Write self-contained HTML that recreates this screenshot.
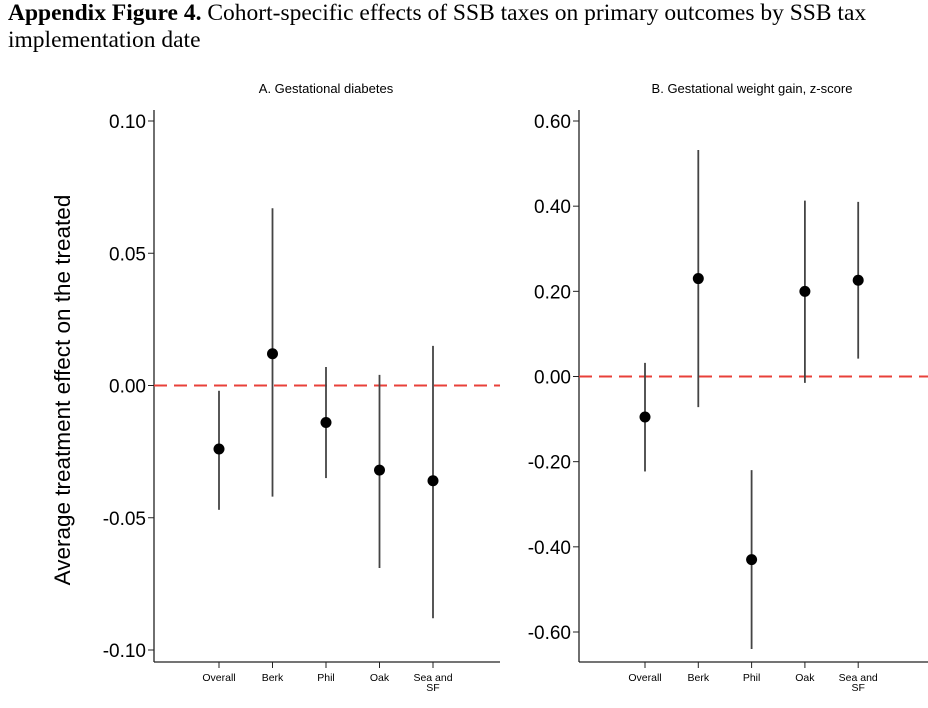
<!DOCTYPE html>
<html><head><meta charset="utf-8"><style>
body{margin:0;background:#fff;width:928px;height:708px;overflow:hidden}
.t{position:absolute;left:8px;top:0px;font-family:"Liberation Serif",serif;font-size:23.5px;line-height:27px;color:#000}
</style></head><body>
<div class="t"><b>Appendix Figure 4.</b> Cohort-specific effects of SSB taxes on primary outcomes by SSB tax implementation date</div>
<svg id="c" width="928" height="708" style="position:absolute;left:0;top:0" font-family="Liberation Sans, sans-serif"></svg>
<script>
const categories=["Overall","Berk","Phil","Oak","Sea and|SF"];
const aEst=[-0.024,0.012,-0.014,-0.032,-0.036];
const aLo=[-0.047,-0.042,-0.035,-0.069,-0.088];
const aHi=[-0.002,0.067,0.007,0.004,0.015];
const aTicks=[0.10,0.05,0.00,-0.05,-0.10];
const bEst=[-0.095,0.23,-0.43,0.20,0.226];
const bLo=[-0.223,-0.072,-0.64,-0.015,0.042];
const bHi=[0.032,0.532,-0.22,0.413,0.41];
const bTicks=[0.60,0.40,0.20,0.00,-0.20,-0.40,-0.60];
const svg=document.getElementById('c');const NS='http://www.w3.org/2000/svg';
function mk(t,a,p){const e=document.createElementNS(NS,t);for(const k in a)e.setAttribute(k,a[k]);(p||svg).appendChild(e);return e;}
function panel(o){
 const g=mk('g',{});
 
 
 const y=v=>o.y0+(v-o.vTop)/(o.vBot-o.vTop)*(o.y1-o.y0);
 const x=i=>o.xFirst+i*o.xStep;
 const tt=mk('text',{x:o.titleX,y:93,'font-size':13,'text-anchor':'middle',fill:'#000'},g);tt.textContent=o.title;
 
 
 mk('line',{x1:o.ax,y1:110,x2:o.ax,y2:662,stroke:'#222','stroke-width':1.3},g);
 mk('line',{x1:o.ax,y1:662,x2:o.axR,y2:662,stroke:'#222','stroke-width':1.3},g);
 o.ticks.forEach(v=>{mk('line',{x1:o.ax-6,y1:y(v),x2:o.ax,y2:y(v),stroke:'#222'},g);
  const t=mk('text',{x:o.ax-8,y:y(v)+7,'font-size':19,'text-anchor':'end',fill:'#000'},g);t.textContent=v.toFixed(2);
  
  });
 mk('line',{x1:o.ax,y1:y(0),x2:o.axR,y2:y(0),stroke:'#e8403a','stroke-width':2,'stroke-dasharray':'13,7'},g);
 categories.forEach((c,i)=>{mk('line',{x1:x(i),y1:662,x2:x(i),y2:668,stroke:'#222'},g);
  c.split('|').forEach((s,j)=>{const t=mk('text',{x:x(i),y:681+j*10,'font-size':10.5,'text-anchor':'middle',fill:'#000'},g);t.textContent=s;
  
  });
  const l=mk('line',{x1:x(i),y1:y(o.lo[i]),x2:x(i),y2:y(o.hi[i]),stroke:'#444','stroke-width':1.8},g);
  
  
  const p=mk('circle',{cx:x(i),cy:y(o.est[i]),r:5.5,fill:'#000'},g);
  
  });
}
panel({name:'panel-a',title:'A. Gestational diabetes',titleX:326,ax:154,axR:500,vTop:0.10,vBot:-0.10,y0:121,y1:650,xFirst:219,xStep:53.5,ticks:aTicks,est:aEst,lo:aLo,hi:aHi});
panel({name:'panel-b',title:'B. Gestational weight gain, z-score',titleX:752,ax:579,axR:928,vTop:0.60,vBot:-0.60,y0:121,y1:632,xFirst:645,xStep:53.3,ticks:bTicks,est:bEst,lo:bLo,hi:bHi});
const yt=mk('text',{x:0,y:0,'font-size':22.5,'text-anchor':'middle',fill:'#000',transform:'translate(70,390) rotate(-90)'});
yt.textContent='Average treatment effect on the treated';


</script>
</body></html>
